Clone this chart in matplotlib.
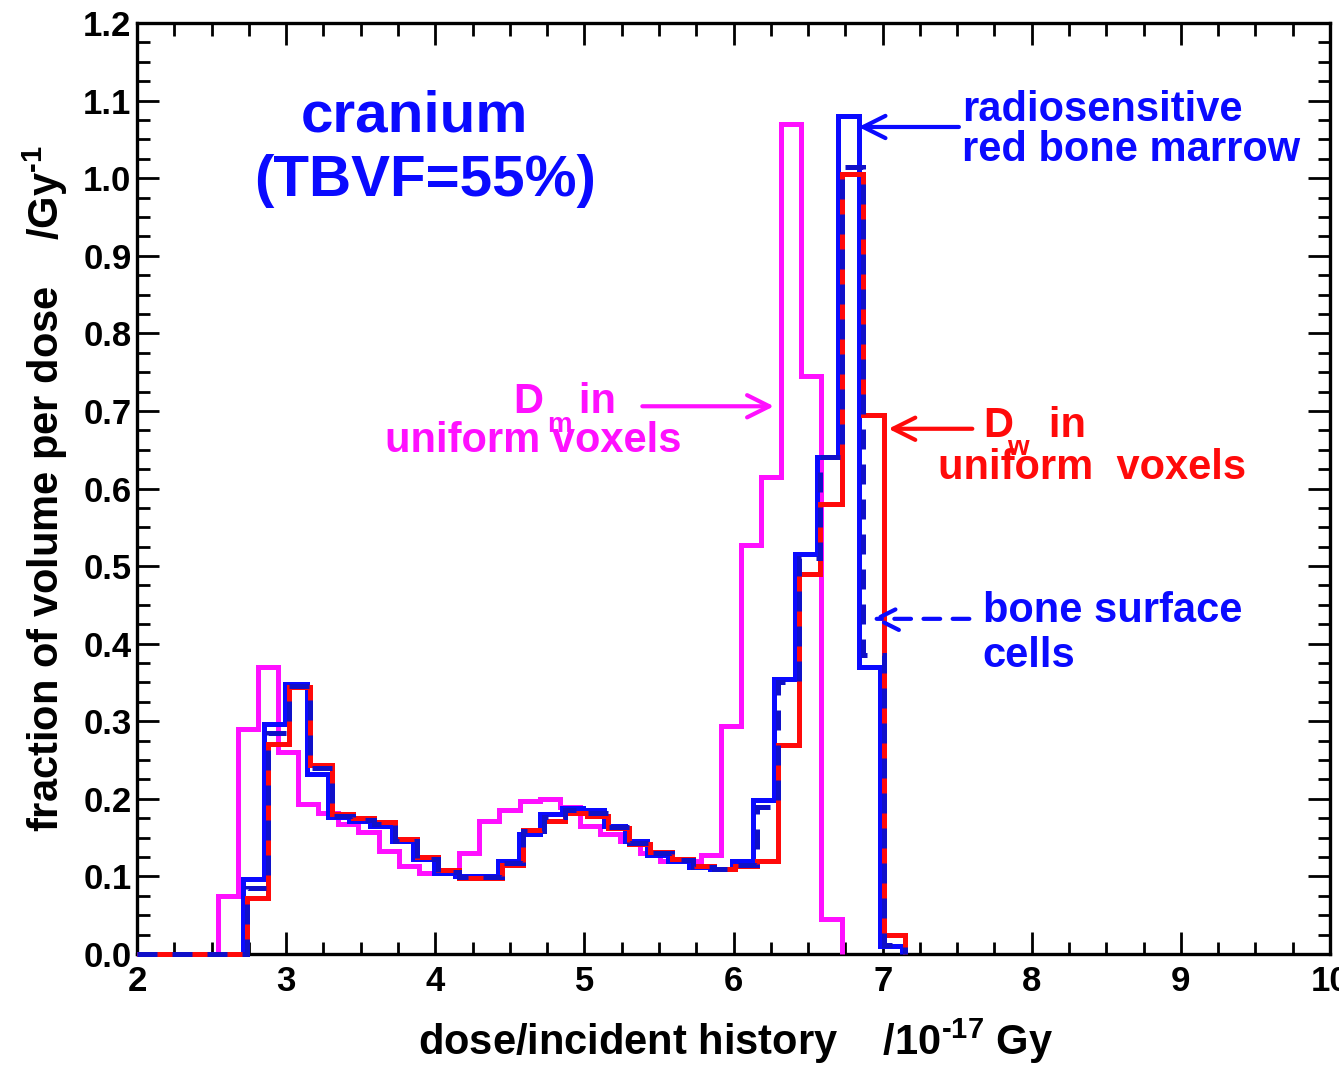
import numpy as np
import matplotlib
matplotlib.use("Agg")
import matplotlib.pyplot as plt
from matplotlib.ticker import MultipleLocator

# histogram binning (first edge, bin width), dose in units of 1e-17 Gy
MAG_START, MAG_WIDTH = 2.54, 0.135
RBM_START, RBM_WIDTH = 2.71, 0.1425
BSC_START, BSC_WIDTH = 2.735, 0.1425
DW_START, DW_WIDTH = 2.735, 0.1425

# fraction of volume per dose /Gy^-1
dm_uniform = [0.075, 0.29, 0.37, 0.26, 0.193, 0.182, 0.168, 0.157, 0.133, 0.114,
              0.105, 0.105, 0.13, 0.172, 0.185, 0.197, 0.20, 0.19, 0.165, 0.155,
              0.145, 0.13, 0.12, 0.12, 0.128, 0.294, 0.527, 0.615, 1.07, 0.745,
              0.045]
rbm = [0.097, 0.297, 0.348, 0.232, 0.176, 0.172, 0.165, 0.145, 0.122, 0.105,
       0.10, 0.10, 0.12, 0.155, 0.18, 0.188, 0.185, 0.165, 0.145, 0.128,
       0.12, 0.112, 0.11, 0.12, 0.198, 0.355, 0.515, 0.64, 1.08, 0.37,
       0.01]
bsc = [0.085, 0.285, 0.345, 0.24, 0.178, 0.173, 0.167, 0.146, 0.123, 0.106,
       0.099, 0.099, 0.117, 0.158, 0.176, 0.185, 0.182, 0.164, 0.143, 0.13,
       0.121, 0.112, 0.11, 0.115, 0.19, 0.35, 0.51, 0.64, 1.015, 0.385,
       0.012]
dw_uniform = [0.072, 0.271, 0.344, 0.243, 0.18, 0.175, 0.17, 0.148, 0.125, 0.108,
              0.098, 0.098, 0.115, 0.16, 0.172, 0.182, 0.178, 0.162, 0.142, 0.132,
              0.122, 0.113, 0.11, 0.113, 0.12, 0.27, 0.49, 0.58, 1.005, 0.695,
              0.025]

plt.rcParams['font.family'] = ['Liberation Sans', 'DejaVu Sans']
plt.rcParams['font.weight'] = 'bold'
plt.rcParams['mathtext.fontset'] = 'custom'
plt.rcParams['mathtext.rm'] = 'Liberation Sans:bold'
plt.rcParams['mathtext.default'] = 'regular'

BLUE = '#0a0aff'
RED = '#ff0a0a'
MAGENTA = '#ff10ff'
LABEL_SIZE = 30


def stair_series(start, width, values):
    """Prepend an empty bin from x=2 so the outline runs along the axis."""
    edges = start + width * np.arange(len(values) + 1)
    edges = np.concatenate([[2.0], edges])
    vals = np.concatenate([[0.0], values])
    return vals, edges


fig = plt.figure(figsize=(13.39, 10.76), dpi=100)
ax = fig.add_axes([0.1023, 0.1134, 0.891, 0.8652])

lw = 3.6
v, e = stair_series(MAG_START, MAG_WIDTH, dm_uniform)
ax.stairs(v, e, color=MAGENTA, lw=lw, zorder=3, clip_on=False)
v, e = stair_series(RBM_START, RBM_WIDTH, rbm)
ax.stairs(v, e, color=BLUE, lw=lw, zorder=3, clip_on=False)
v, e = stair_series(DW_START, DW_WIDTH, dw_uniform)
ax.stairs(v, e, color=RED, lw=lw, zorder=3, clip_on=False)
v, e = stair_series(BSC_START, BSC_WIDTH, bsc)
ax.stairs(v, e, color='#1010c8', lw=lw, linestyle=(0, (4, 3)), zorder=3,
          clip_on=False)

ax.set_xlim(2, 10)
ax.set_ylim(0, 1.2)
ax.xaxis.set_major_locator(MultipleLocator(1))
ax.xaxis.set_minor_locator(MultipleLocator(0.25))
ax.yaxis.set_major_locator(MultipleLocator(0.1))
ax.yaxis.set_minor_locator(MultipleLocator(0.025))
ax.yaxis.set_major_formatter(plt.FormatStrFormatter('%.1f'))
ax.tick_params(which='both', direction='in', top=True, right=True,
               labelsize=25, width=2.0, pad=4)
ax.tick_params(which='major', length=16)
ax.tick_params(which='minor', length=9)
ax.tick_params(axis='x', pad=8)
for s in ax.spines.values():
    s.set_linewidth(2.4)

ax.text(0.502, -0.094, r'dose/incident history    /10$^{\text{-17}}$ Gy',
        transform=ax.transAxes, ha='center', va='center', fontsize=LABEL_SIZE)
ax.text(-0.077, 0.5, r'fraction of volume per dose    /Gy$^{\text{-1}}$',
        transform=ax.transAxes, ha='center', va='center', rotation=90,
        fontsize=LABEL_SIZE)

# region title
ax.text(3.86, 1.079, 'cranium', color=BLUE, fontsize=42, ha='center',
        va='center')
ax.text(3.93, 0.996, '(TBVF=55%)', color=BLUE, fontsize=42, ha='center',
        va='center')

# red bone marrow label
ax.text(7.53, 1.062, 'radiosensitive\nred bone marrow', color=BLUE,
        fontsize=LABEL_SIZE, ha='left', va='center', linespacing=0.98)
ax.annotate('', xy=(6.82, 1.066), xytext=(7.53, 1.066),
            arrowprops=dict(arrowstyle='->', color=BLUE, lw=3,
                            mutation_scale=40))

# water dose label
ax.text(7.68, 0.68, 'D   in', color=RED, fontsize=LABEL_SIZE, ha='left',
        va='center')
ax.text(7.91, 0.652, 'w', color=RED, fontsize=20, ha='center', va='center')
ax.text(7.37, 0.626, 'uniform  voxels', color=RED, fontsize=LABEL_SIZE,
        ha='left', va='center')
ax.annotate('', xy=(7.02, 0.677), xytext=(7.62, 0.677),
            arrowprops=dict(arrowstyle='->', color=RED, lw=3,
                            mutation_scale=40))

# medium dose label
ax.text(4.53, 0.712, 'D   in', color=MAGENTA, fontsize=LABEL_SIZE,
        ha='left', va='center')
ax.text(4.835, 0.682, 'm', color=MAGENTA, fontsize=20, ha='center',
        va='center')
ax.text(3.66, 0.661, 'uniform voxels', color=MAGENTA, fontsize=LABEL_SIZE,
        ha='left', va='center')
ax.annotate('', xy=(6.29, 0.706), xytext=(5.37, 0.706),
            arrowprops=dict(arrowstyle='->', color=MAGENTA, lw=3,
                            mutation_scale=40))

# bone surface cells label
ax.text(7.67, 0.442, 'bone surface', color=BLUE, fontsize=LABEL_SIZE,
        ha='left', va='center')
ax.text(7.67, 0.384, 'cells', color=BLUE, fontsize=LABEL_SIZE, ha='left',
        va='center')
ax.annotate('', xy=(6.91, 0.432), xytext=(7.6, 0.432),
            arrowprops=dict(arrowstyle='->', color=BLUE, lw=3,
                            linestyle=(0, (4, 3)), mutation_scale=40))

fig.savefig('out.png', dpi=100)
